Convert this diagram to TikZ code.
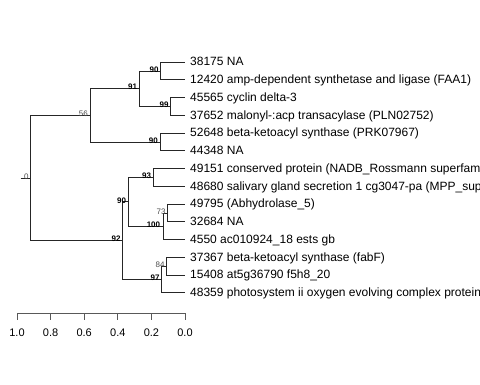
\documentclass[tikz,border=0pt]{standalone}
\usepackage{fontspec}
\setmainfont{Liberation Sans}
\usetikzlibrary{positioning}
\tikzset{
  leaf/.style={anchor=west, inner xsep=5pt, inner ysep=0pt, text height=8.5pt, text depth=1pt, font=\fontsize{12}{14}\selectfont},
  boot/.style={anchor=south east, inner sep=0pt, font=\fontsize{8}{9}\selectfont\bfseries},
  bootlight/.style={anchor=south east, inner sep=0pt, text=black!70, font=\fontsize{8}{9}\selectfont},
  branch/.style={black!85, line width=0.8pt}
}
\begin{document}
\begin{tikzpicture}[x=1pt, y=-1pt]
  \clip (0,0) rectangle (480,384);
  % leaves
  \node[leaf] (l38175) at (185,62) {38175 NA};
  \node[leaf] (l12420) at (185,79.75) {12420 amp-dependent synthetase and ligase (FAA1)};
  \node[leaf] (l45565) at (185,97.5) {45565 cyclin delta-3};
  \node[leaf] (l37652) at (185,115.25) {37652 malonyl-:acp transacylase (PLN02752)};
  \node[leaf] (l52648) at (185,133) {52648 beta-ketoacyl synthase (PRK07967)};
  \node[leaf] (l44348) at (185,150.75) {44348 NA};
  \node[leaf] (l49151) at (185,168.5) {49151 conserved protein (NADB\_Rossmann superfamily)};
  \node[leaf] (l48680) at (185,186.25) {48680 salivary gland secretion 1 cg3047-pa (MPP\_superfamily)};
  \node[leaf] (l49795) at (185,204) {49795 (Abhydrolase\_5)};
  \node[leaf] (l32684) at (185,221.75) {32684 NA};
  \node[leaf] (l4550) at (185,239.5) {4550 ac010924\_18 ests gb};
  \node[leaf] (l37367) at (185,257.25) {37367 beta-ketoacyl synthase (fabF)};
  \node[leaf] (l15408) at (185,275) {15408 at5g36790 f5h8\_20};
  \node[leaf] (l48359) at (185,292.75) {48359 photosystem ii oxygen evolving complex protein};
  % internal nodes
  \coordinate (nA) at (160.7,70.9);
  \coordinate (nB) at (170.7,106.4);
  \coordinate (nC) at (139.3,88.6);
  \coordinate (nD) at (160,141.9);
  \coordinate (nE) at (90,115.25);
  \coordinate (nF) at (153.3,177.4);
  \coordinate (nG) at (167.7,212.9);
  \coordinate (nH) at (163.3,226.2);
  \coordinate (nI) at (128.3,201.8);
  \coordinate (nJ) at (166.7,266.1);
  \coordinate (nK) at (161.7,279.4);
  \coordinate (nM) at (122.7,240.6);
  \coordinate (nRoot) at (30.7,177.9);
  \coordinate (stub) at (20.7,177.9);
  % branches
  \draw[branch] (nA) |- (l38175.west);
  \draw[branch] (nA) |- (l12420.west);
  \draw[branch] (nB) |- (l45565.west);
  \draw[branch] (nB) |- (l37652.west);
  \draw[branch] (nC) |- (nA);
  \draw[branch] (nC) |- (nB);
  \draw[branch] (nD) |- (l52648.west);
  \draw[branch] (nD) |- (l44348.west);
  \draw[branch] (nE) |- (nC);
  \draw[branch] (nE) |- (nD);
  \draw[branch] (nF) |- (l49151.west);
  \draw[branch] (nF) |- (l48680.west);
  \draw[branch] (nG) |- (l49795.west);
  \draw[branch] (nG) |- (l32684.west);
  \draw[branch] (nH) |- (nG);
  \draw[branch] (nH) |- (l4550.west);
  \draw[branch] (nI) |- (nF);
  \draw[branch] (nI) |- (nH);
  \draw[branch] (nJ) |- (l37367.west);
  \draw[branch] (nJ) |- (l15408.west);
  \draw[branch] (nK) |- (nJ);
  \draw[branch] (nK) |- (l48359.west);
  \draw[branch] (nM) |- (nI);
  \draw[branch] (nM) |- (nK);
  \draw[branch] (nRoot) |- (nE);
  \draw[branch] (nRoot) |- (nM);
  \draw[branch] (stub) -- (nRoot);
  % support values
  \node[boot] at ([xshift=-2pt,yshift=-1.5pt]nA) {90};
  \node[boot] at ([xshift=-2pt,yshift=-1.5pt]nB) {99};
  \node[boot] at ([xshift=-2pt,yshift=-1.5pt]nC) {91};
  \node[boot] at ([xshift=-2pt,yshift=-1.5pt]nD) {90};
  \node[bootlight] at ([xshift=-2pt,yshift=-1.5pt]nE) {56};
  \node[boot] at ([xshift=-2pt,yshift=-1.5pt]nF) {93};
  \node[bootlight] at ([xshift=-2pt,yshift=-1.5pt]nG) {73};
  \node[boot] at ([xshift=-3pt,yshift=-1.5pt]nH) {100};
  \node[boot] at ([xshift=-2pt,yshift=-1.5pt]nI) {90};
  \node[bootlight] at ([xshift=-2pt,yshift=-1.5pt]nJ) {84};
  \node[boot] at ([xshift=-2pt,yshift=-1.5pt]nK) {97};
  \node[boot] at ([xshift=-2pt,yshift=-1.5pt]nM) {92};
  \node[bootlight] at ([xshift=-2pt,yshift=-1.5pt]nRoot) {0};
  % scale axis
  \coordinate (ax1) at (17,313);
  \coordinate (ax0) at (185,313);
  \draw[black!65, line width=0.8pt] (ax1) -- (ax0);
  \foreach \v in {0,2,4,6,8,10} {
    \draw[black!65, line width=0.8pt] (185-16.8*\v,313) -- (185-16.8*\v,320);
  }
  \foreach \v/\t in {0/0.0,2/0.2,4/0.4,6/0.6,8/0.8,10/1.0} {
    \node[font=\fontsize{11}{13}\selectfont, inner sep=0pt] (tick\v) at (185-16.8*\v,333) {\t};
  }
\end{tikzpicture}
\end{document}
